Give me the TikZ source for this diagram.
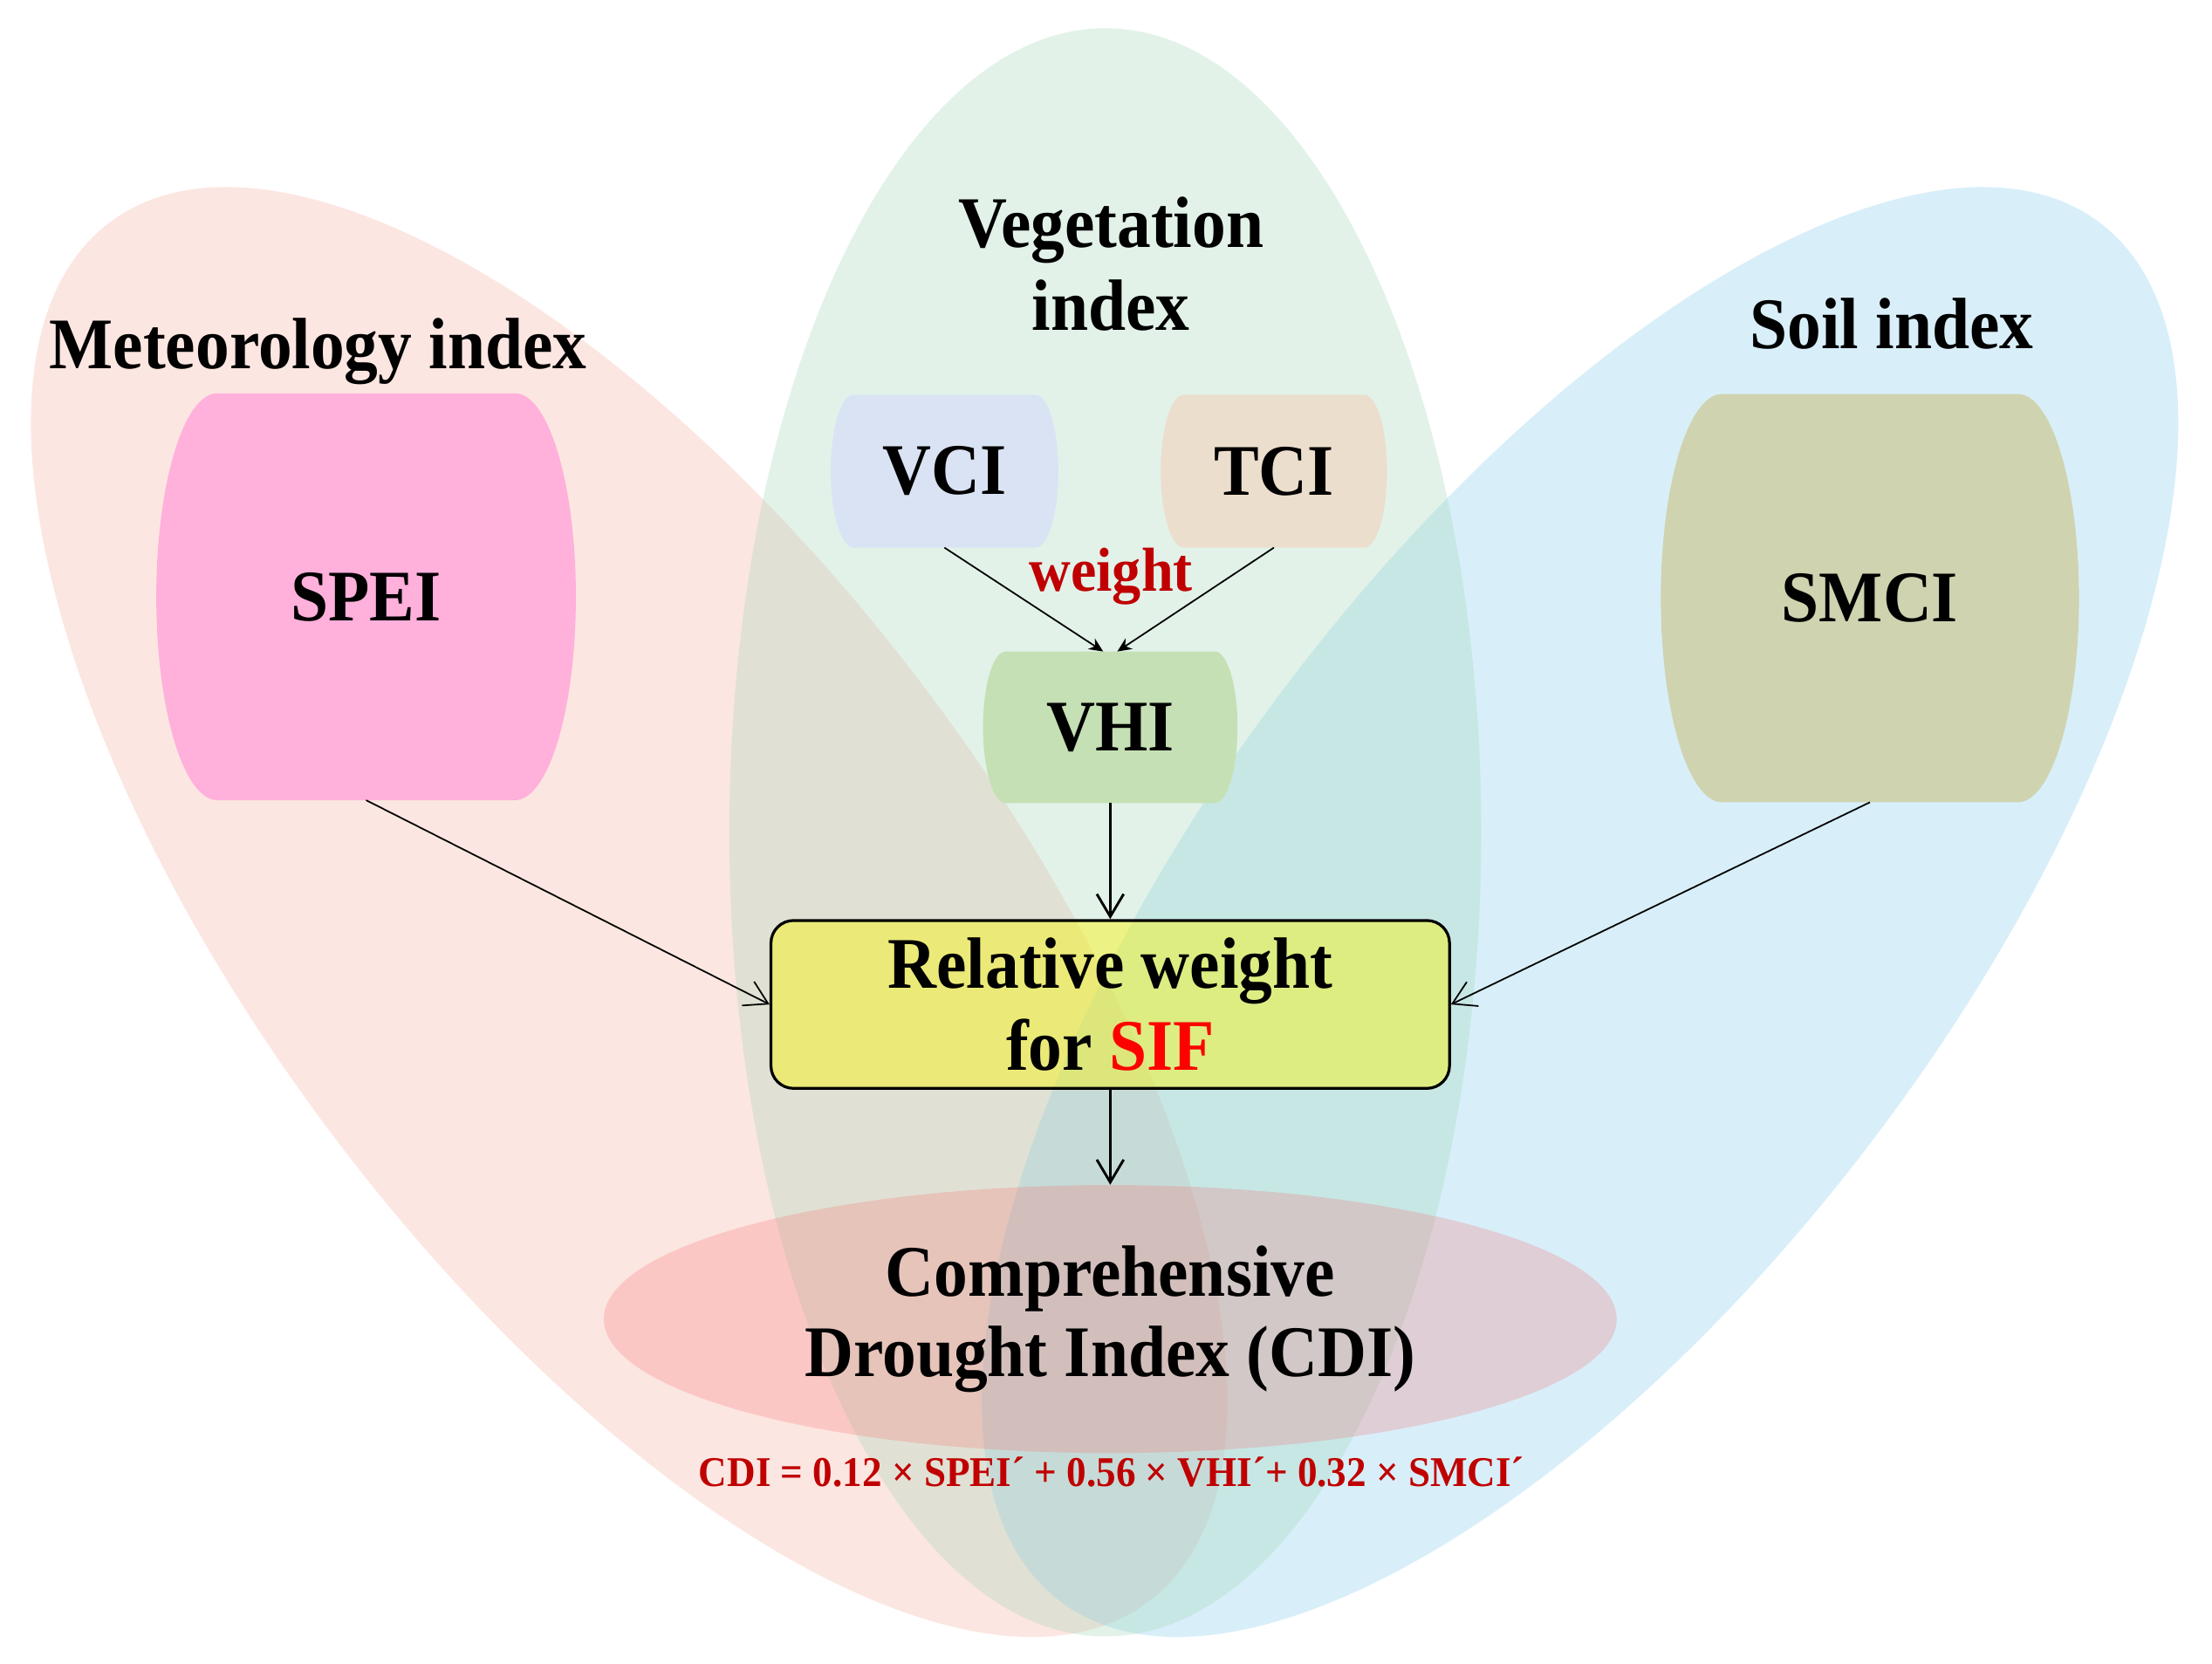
\documentclass[tikz,border=0pt]{standalone}
\usepackage{fontspec}
\setmainfont{Liberation Serif}[FakeStretch=0.93]
\usetikzlibrary{arrows.meta,calc,shapes.geometric}
\definecolor{pinkell}{RGB}{248,175,158}
\definecolor{greenell}{RGB}{162,215,185}
\definecolor{blueell}{RGB}{128,205,238}
\definecolor{cdired}{RGB}{250,100,100}
\definecolor{boxyellow}{RGB}{250,246,0}
\definecolor{speicol}{RGB}{255,176,219}
\definecolor{smcicol}{RGB}{207,211,175}
\definecolor{vcicol}{RGB}{218,227,243}
\definecolor{tcicol}{RGB}{236,222,204}
\definecolor{vhicol}{RGB}{197,224,180}
\definecolor{darkred}{RGB}{192,0,0}
\pgfdeclarelayer{back}
\pgfdeclarelayer{mid}
\pgfsetlayers{back,mid,main}
\newcommand\barrelbg[2]{%
  \begin{pgfonlayer}{mid}
  \fill[#2] let \p1=(#1.south west), \p2=(#1.north east),
      \n1={(\y2-\y1)/2}, \n2={0.3*(\y2-\y1)/2} in
    (\x1+\n2,\y2) -- (\x2-\n2,\y2)
    arc[start angle=90,end angle=-90,x radius=\n2,y radius=\n1]
    -- (\x1+\n2,\y1)
    arc[start angle=270,end angle=90,x radius=\n2,y radius=\n1] -- cycle;
  \end{pgfonlayer}}
\tikzset{
  bigell/.style={fill=#1, fill opacity=0.3},
  titletext/.style={font=\bfseries\fontsize{51.5}{59}\selectfont, inner sep=0pt, align=center},
  barrel/.style={inner sep=0pt, font=\bfseries\fontsize{51.5}{59}\selectfont},
  relbox/.style={draw=black, line width=2pt, rounded corners=16pt, fill=boxyellow,
    fill opacity=0.43, draw opacity=1, text opacity=1, align=center,
    minimum width=481pt, minimum height=119pt, inner sep=0pt,
    font=\bfseries\fontsize{51.5}{58}\selectfont},
  cdiell/.style={ellipse, fill=cdired, fill opacity=0.23, text opacity=1, draw=none,
    minimum width=718pt, minimum height=190pt, inner sep=0pt, align=center,
    font=\bfseries\fontsize{51.5}{57}\selectfont},
  thinarrow/.style={line width=1.1pt, -{Straight Barb[length=16pt,width=19pt]}},
  vertarrow/.style={line width=1.8pt, -{Straight Barb[length=16pt,width=19pt]}},
  smallarrow/.style={line width=1.1pt, -{Stealth[length=10pt,width=9pt]}},
}
\begin{document}
\begin{tikzpicture}[x=1pt,y=1pt]
\useasboundingbox (0,0) rectangle (1568,-1179);
% background ellipses
\begin{pgfonlayer}{back}
\fill[white] (0,0) rectangle (1568,-1179);
\fill[bigell=pinkell, rotate around={-53:(446,-646.5)}] (446,-646.5) ellipse [x radius=612, y radius=263];
\fill[bigell=blueell, rotate around={53:(1120,-646.5)}] (1120,-646.5) ellipse [x radius=612, y radius=263];
\fill[bigell=greenell] (783.5,-590) ellipse [x radius=266.5, y radius=570];
\end{pgfonlayer}
% titles
\node[titletext, anchor=base] (met) at (225.5,-261.5) {Meteorology index};
\node[titletext] (veg) at (787.5,-187) {Vegetation\\index};
\node[titletext, anchor=base] (soil) at (1341,-247.4) {Soil index};
% barrel nodes
\node[barrel, minimum width=297pt, minimum height=288pt] (spei) at (259.5,-423) {SPEI};
\node[barrel, minimum width=296pt, minimum height=289pt] (smci) at (1325.5,-424) {SMCI};
\node[barrel, minimum width=161pt, minimum height=108pt] (vci) at (669.5,-334) {VCI};
\node[barrel, minimum width=160pt, minimum height=108pt] (tci) at (903,-334) {TCI};
\node[barrel, minimum width=180pt, minimum height=107pt] (vhi) at (787,-515.5) {VHI};
\barrelbg{spei}{speicol}
\barrelbg{smci}{smcicol}
\barrelbg{vci}{vcicol}
\barrelbg{tci}{tcicol}
\barrelbg{vhi}{vhicol}
\node[anchor=base, text=darkred, inner sep=0pt, font=\bfseries\fontsize{44}{44}\selectfont] (wt) at (787.5,-418.9) {weight};
% relative weight box and CDI
\node[relbox] (box) at (787,-712) {Relative weight\\for \textcolor{red}{SIF}};
\node[cdiell] (cdi) at (787,-935) {Comprehensive\\Drought Index (CDI)};
\node[anchor=base, text=darkred, inner sep=0pt, font=\bfseries\fontsize{30}{30}\selectfont] (formula) at (788,-1053.5) {CDI = 0.12 × SPEI´ + 0.56 × VHI´+ 0.32 × SMCI´};
% connectors
\draw[smallarrow] (vci.south) -- ([xshift=-5pt]vhi.north);
\draw[smallarrow] (tci.south) -- ([xshift=5pt]vhi.north);
\draw[vertarrow] (vhi.south) -- (box.north);
\draw[thinarrow] (spei.south) -- (box.west);
\draw[thinarrow] (smci.south) -- (box.east);
\draw[vertarrow] (box.south) -- (cdi.north);
\end{tikzpicture}
\end{document}
